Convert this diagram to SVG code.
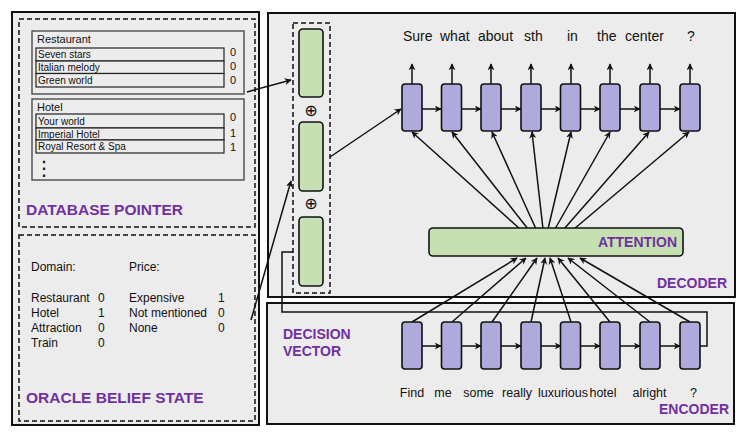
<svg xmlns="http://www.w3.org/2000/svg" width="745" height="435" viewBox="0 0 745 435">
<style>
text{font-family:"Liberation Sans",Arial,sans-serif;fill:#111}
.panel{fill:#ececec;stroke:#111;stroke-width:2}
.dash{fill:none;stroke:#111;stroke-width:1.5;stroke-dasharray:5,3}
.tbl{fill:#ececec;stroke:#555;stroke-width:1.5}
.row{fill:#ececec;stroke:#222;stroke-width:1.2}
.t10{font-size:10px}
.t11{font-size:11px}
.t12{font-size:12px}
.lbl{font-size:14px;font-weight:bold;fill:#7030a0}
.big{font-size:15.5px;font-weight:bold;fill:#7030a0}
.w{font-size:14px}
.we{font-size:12.5px;text-anchor:middle}
.cell{fill:#aeaadb;stroke:#111;stroke-width:1.6}
.grn{fill:#c6e0b4;stroke:#111;stroke-width:1.6}
.ln{fill:none;stroke:#111;stroke-width:1.5}
.arr{fill:none;stroke:#111;stroke-width:1.5;marker-end:url(#ah)}
</style>
<defs>
<marker id="ah" viewBox="0 0 10 10" refX="9" refY="5" markerWidth="7" markerHeight="7" markerUnits="userSpaceOnUse" orient="auto">
<path d="M0,0 L10,5 L0,10 L3,5 z" fill="#111"/>
</marker>
</defs>
<rect width="745" height="435" fill="#fff"/>

<g id="left-panel">
<rect class="panel" x="12" y="12" width="247" height="413"/>
</g>

<g id="database-pointer">
<rect class="dash" x="19" y="19" width="236" height="208"/>
<rect class="tbl" x="32" y="31" width="212" height="63"/>
<text class="t11" x="37" y="43">Restaurant</text>
<rect class="row" x="36" y="48" width="188" height="13"/>
<rect class="row" x="36" y="61" width="188" height="12.5"/>
<rect class="row" x="36" y="73.5" width="188" height="13.5"/>
<text class="t10" x="38" y="58">Seven stars</text>
<text class="t10" x="38" y="71">Italian melody</text>
<text class="t10" x="38" y="83.5">Green world</text>
<text class="t11" x="230" y="56">0</text>
<text class="t11" x="230" y="70">0</text>
<text class="t11" x="230" y="84">0</text>
<rect class="tbl" x="32" y="99" width="212" height="81"/>
<text class="t11" x="37" y="111">Hotel</text>
<rect class="row" x="36" y="114" width="188" height="14"/>
<rect class="row" x="36" y="128" width="188" height="12"/>
<rect class="row" x="36" y="140" width="188" height="13"/>
<text class="t10" x="38" y="125">Your world</text>
<text class="t10" x="38" y="137.5">Imperial Hotel</text>
<text class="t10" x="38" y="150">Royal Resort &amp; Spa</text>
<text class="t11" x="230" y="121">0</text>
<text class="t11" x="230" y="137">1</text>
<text class="t11" x="230" y="151">1</text>
<text x="44" y="175" font-size="20" text-anchor="middle" style="font-family:'DejaVu Sans',sans-serif">⋮</text>
<text class="big" x="26" y="215">DATABASE POINTER</text>
</g>

<g id="oracle-belief-state">
<rect class="dash" x="19" y="235" width="236" height="186"/>
<text class="t12" x="31" y="271">Domain:</text>
<text class="t12" x="129" y="271">Price:</text>
<text class="t12" x="31" y="302">Restaurant</text>
<text class="t12" x="31" y="317">Hotel</text>
<text class="t12" x="31" y="332">Attraction</text>
<text class="t12" x="31" y="347">Train</text>
<text class="t12" x="98" y="302">0</text>
<text class="t12" x="98" y="317">1</text>
<text class="t12" x="98" y="332">0</text>
<text class="t12" x="98" y="347">0</text>
<text class="t12" x="129" y="302">Expensive</text>
<text class="t12" x="129" y="317">Not mentioned</text>
<text class="t12" x="129" y="332">None</text>
<text class="t12" x="218" y="302">1</text>
<text class="t12" x="218" y="317">0</text>
<text class="t12" x="218" y="332">0</text>
<text class="big" x="26" y="403">ORACLE BELIEF STATE</text>
</g>

<g id="decoder-panel">
<rect class="panel" x="268" y="13" width="467" height="284"/>
<text class="lbl" x="727" y="288" text-anchor="end">DECODER</text>
</g>

<g id="encoder-panel">
<rect class="panel" x="267" y="303" width="467" height="121"/>
<text class="lbl" x="729" y="414" text-anchor="end">ENCODER</text>
<text class="lbl" x="283" y="339">DECISION</text>
<text class="lbl" x="283" y="356">VECTOR</text>
</g>

<g id="connectors">
<line class="arr" x1="247" y1="92" x2="291" y2="80"/>
<line class="arr" x1="251" y1="320" x2="291" y2="181"/>
<line class="arr" x1="330" y1="157" x2="401" y2="109"/>
<polyline class="ln" points="700,346 707,346 707,312 282,312 282,252 293,252"/>
<g id="dec-out">
<line class="arr" x1="412" y1="84" x2="412" y2="64"/>
<line class="arr" x1="452" y1="84" x2="452" y2="64"/>
<line class="arr" x1="491" y1="84" x2="491" y2="64"/>
<line class="arr" x1="531" y1="84" x2="531" y2="64"/>
<line class="arr" x1="571" y1="84" x2="571" y2="64"/>
<line class="arr" x1="610" y1="84" x2="610" y2="64"/>
<line class="arr" x1="650" y1="84" x2="650" y2="64"/>
<line class="arr" x1="690" y1="84" x2="690" y2="64"/>
</g>
<g id="dec-h">
<line class="arr" x1="422" y1="109" x2="441" y2="109"/>
<line class="arr" x1="462" y1="109" x2="481" y2="109"/>
<line class="arr" x1="501" y1="109" x2="521" y2="109"/>
<line class="arr" x1="541" y1="109" x2="561" y2="109"/>
<line class="arr" x1="581" y1="109" x2="600" y2="109"/>
<line class="arr" x1="620" y1="109" x2="640" y2="109"/>
<line class="arr" x1="660" y1="109" x2="680" y2="109"/>
</g>
<g id="enc-h">
<line class="arr" x1="422" y1="346" x2="441" y2="346"/>
<line class="arr" x1="462" y1="346" x2="481" y2="346"/>
<line class="arr" x1="501" y1="346" x2="521" y2="346"/>
<line class="arr" x1="541" y1="346" x2="561" y2="346"/>
<line class="arr" x1="581" y1="346" x2="600" y2="346"/>
<line class="arr" x1="620" y1="346" x2="640" y2="346"/>
<line class="arr" x1="660" y1="346" x2="680" y2="346"/>
</g>
<g id="att-dec">
<line class="arr" x1="520" y1="229" x2="412" y2="132"/>
<line class="arr" x1="528" y1="229" x2="452" y2="132"/>
<line class="arr" x1="536" y1="229" x2="492" y2="132"/>
<line class="arr" x1="543" y1="229" x2="532" y2="132"/>
<line class="arr" x1="548" y1="229" x2="571" y2="132"/>
<line class="arr" x1="555" y1="229" x2="610" y2="132"/>
<line class="arr" x1="564" y1="229" x2="649" y2="132"/>
<line class="arr" x1="574" y1="229" x2="689" y2="132"/>
</g>
<g id="enc-att">
<line class="arr" x1="412" y1="322" x2="517" y2="258"/>
<line class="arr" x1="452" y1="322" x2="526" y2="258"/>
<line class="arr" x1="492" y1="322" x2="537" y2="258"/>
<line class="arr" x1="531" y1="322" x2="545" y2="258"/>
<line class="arr" x1="571" y1="322" x2="550" y2="258"/>
<line class="arr" x1="610" y1="322" x2="558" y2="258"/>
<line class="arr" x1="650" y1="322" x2="568" y2="258"/>
<line class="arr" x1="690" y1="322" x2="580" y2="258"/>
</g>
</g>

<g id="vector-column">
<rect class="dash" x="293" y="23" width="37" height="270"/>
<rect class="grn" x="299" y="29" width="24" height="68" rx="4"/>
<text x="311" y="115.5" font-size="16" text-anchor="middle" style="font-family:'DejaVu Sans',sans-serif">⊕</text>
<rect class="grn" x="299" y="122" width="24" height="69" rx="4"/>
<text x="311" y="208.5" font-size="16" text-anchor="middle" style="font-family:'DejaVu Sans',sans-serif">⊕</text>
<rect class="grn" x="299" y="217" width="24" height="69" rx="4"/>
</g>

<g id="attention">
<rect class="grn" x="429" y="228" width="254" height="28" rx="4"/>
<text class="lbl" x="677" y="247" text-anchor="end">ATTENTION</text>
</g>

<g id="decoder-cells">
<rect class="cell" x="402" y="84" width="20" height="47" rx="3"/>
<rect class="cell" x="441.5" y="84" width="20" height="47" rx="3"/>
<rect class="cell" x="481" y="84" width="20" height="47" rx="3"/>
<rect class="cell" x="521" y="84" width="20" height="47" rx="3"/>
<rect class="cell" x="560.5" y="84" width="20" height="47" rx="3"/>
<rect class="cell" x="600" y="84" width="20" height="47" rx="3"/>
<rect class="cell" x="640" y="84" width="20" height="47" rx="3"/>
<rect class="cell" x="680" y="84" width="20" height="47" rx="3"/>
</g>

<g id="encoder-cells">
<rect class="cell" x="402" y="322" width="20" height="47" rx="3"/>
<rect class="cell" x="441.5" y="322" width="20" height="47" rx="3"/>
<rect class="cell" x="481" y="322" width="20" height="47" rx="3"/>
<rect class="cell" x="521" y="322" width="20" height="47" rx="3"/>
<rect class="cell" x="560.5" y="322" width="20" height="47" rx="3"/>
<rect class="cell" x="600" y="322" width="20" height="47" rx="3"/>
<rect class="cell" x="640" y="322" width="20" height="47" rx="3"/>
<rect class="cell" x="680" y="322" width="20" height="47" rx="3"/>
</g>

<g id="output-words">
<text class="w" x="403" y="41">Sure</text>
<text class="w" x="440" y="41">what</text>
<text class="w" x="478" y="41">about</text>
<text class="w" x="524" y="41">sth</text>
<text class="w" x="567" y="41">in</text>
<text class="w" x="597" y="41">the</text>
<text class="w" x="625" y="41">center</text>
<text class="w" x="687" y="41">?</text>
</g>

<g id="input-words">
<text class="we" x="412" y="397">Find</text>
<text class="we" x="443" y="397">me</text>
<text class="we" x="478.5" y="397">some</text>
<text class="we" x="517" y="397">really</text>
<text class="we" x="563" y="397">luxurious</text>
<text class="we" x="603" y="397">hotel</text>
<text class="we" x="649.5" y="397">alright</text>
<text class="we" x="693.5" y="397">?</text>
</g>
</svg>
